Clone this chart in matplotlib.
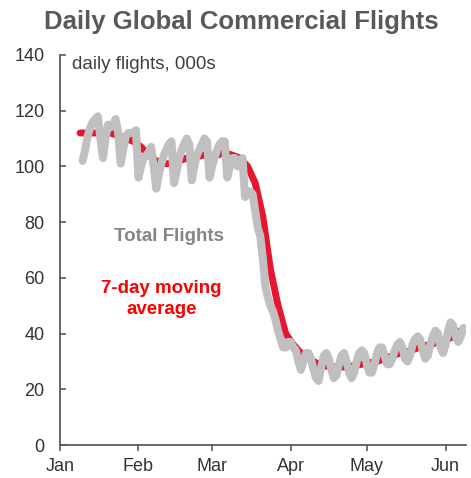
import pandas as pd
import matplotlib
matplotlib.use('Agg')
import matplotlib.pyplot as plt
import matplotlib.dates as mdates

plt.rcParams['font.family'] = ['Liberation Sans', 'DejaVu Sans']

# daily global commercial flights, thousands (2020-01-10 onward)
total_start = '2020-01-10'
total_flights = [
    102, 106, 111, 114, 116, 117, 118, 110,             # Jan 10 - Jan 17
    103, 110, 115, 114, 115, 117, 112,                  # week from Jan 18
    101, 106, 111, 112, 112, 112, 113,                  # Jan 25
    96, 100, 103, 104, 105, 107, 100,                   # Feb 1
    92, 97, 101, 104, 106, 108, 109,                    # Feb 8
    94, 98, 103, 106, 108, 110, 108,                    # Feb 15
    95, 100, 104, 106, 108, 110, 109,                   # Feb 22
    96, 100, 103, 106, 108, 109, 109,                   # Feb 29
    96, 100, 103, 103, 100, 102, 103,                   # Mar 7
    89, 91, 91, 90, 84, 78, 75,                         # Mar 14
    67, 57, 53, 50, 48, 45, 41,                         # Mar 21
    38, 35, 35, 37, 37, 35, 34,                         # Mar 28
    30, 27, 30, 33, 33, 31, 27,                         # Apr 4
    24, 23, 28, 32, 33, 31, 27,                         # Apr 11
    24, 25, 29, 32, 33, 30, 26,                         # Apr 18
    24, 26, 30, 33, 34, 33, 29,                         # Apr 25
    26, 26, 29, 33, 35, 35, 32,                         # May 2
    29, 29, 31, 34, 36, 37, 35,                         # May 9
    31, 30, 32, 36, 38, 39, 38,                         # May 16
    34, 31, 32, 36, 39, 41, 40,                         # May 23
    35, 33, 36, 41, 44, 43, 39,                         # May 30
    37, 39, 42,                                         # Jun 6 - Jun 8
]

# 7-day moving average, sampled every third day from 2020-01-09
avg_start = '2020-01-09'
moving_avg = [
    112, 112, 112, 112, 112, 111, 110, 109, 107, 104,
    102, 101, 101, 102, 103, 103, 104, 104, 104, 105,
    104, 103, 100, 94, 82, 63, 50, 40, 36, 33,
    31, 29.5, 28.5, 28, 28, 28, 28.5, 29, 29.5, 30,
    31, 32, 33, 33.5, 34.5, 35.5, 36, 37, 37.5, 39,
    41,
]

total_dates = pd.date_range(total_start, periods=len(total_flights), freq='D')
avg_dates = pd.date_range(avg_start, periods=len(moving_avg), freq='3D')

fig = plt.figure(figsize=(4.71, 4.78), dpi=100)
ax = fig.add_axes([0.127, 0.069, 0.862, 0.816])

ax.plot(avg_dates, moving_avg, color='#E8152F', lw=5.0, solid_capstyle='round', zorder=2)
ax.plot(total_dates, total_flights, color='#C0C0C0', lw=5.8, solid_joinstyle='round',
        solid_capstyle='round', zorder=3)

ax.set_xlim(pd.Timestamp('2020-01-01'), pd.Timestamp('2020-06-09'))
ax.set_ylim(0, 140)
ax.set_yticks(range(0, 141, 20))
ax.xaxis.set_major_locator(mdates.MonthLocator())
ax.xaxis.set_major_formatter(mdates.DateFormatter('%b'))

axis_grey = '#5A5A5A'
for side in ['top', 'right']:
    ax.spines[side].set_visible(False)
for side in ['left', 'bottom']:
    ax.spines[side].set_color(axis_grey)
    ax.spines[side].set_linewidth(1.3)
ax.tick_params(axis='y', direction='in', length=4, width=1.2, color=axis_grey,
               labelsize=13, labelcolor='#333333', pad=11)
ax.tick_params(axis='x', direction='out', length=4, width=1.2, color=axis_grey,
               labelsize=13, labelcolor='#333333', pad=5)

fig.suptitle('Daily Global Commercial Flights', x=0.513, y=0.98, fontsize=18.5,
             fontweight='bold', color='#595959')
ax.text(0.03, 0.975, 'daily flights, 000s', transform=ax.transAxes, fontsize=13.5,
        color='#404040', va='center', ha='left')
ax.text(0.27, 0.535, 'Total Flights', transform=ax.transAxes, fontsize=13.5,
        fontweight='bold', color='#858585', ha='center', va='center')
ax.text(0.25, 0.375, '7-day moving\naverage', transform=ax.transAxes, fontsize=13.5,
        fontweight='bold', color='#FF0000', ha='center', va='center', linespacing=1.3)

fig.savefig('out.png', dpi=100)
